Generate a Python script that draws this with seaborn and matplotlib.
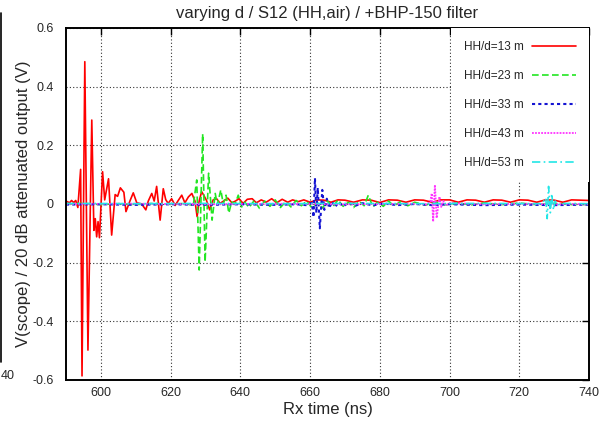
import matplotlib
matplotlib.use("Agg")
import matplotlib.pyplot as plt
from matplotlib.lines import Line2D
import seaborn as sns
import pandas as pd

# ---- data (time ns, voltage V) ----
series_labels = ["HH/d=13 m", "HH/d=23 m", "HH/d=33 m", "HH/d=43 m", "HH/d=53 m"]

d13 = [(590.0, 0.010), (591.0, 0.004), (591.6, 0.012), (592.2, 0.005), (592.8, 0.012),
       (593.4, -0.012), (594.2, 0.118), (594.6, -0.586), (595.4, 0.485), (596.3, -0.498),
       (597.4, 0.286), (598.0, -0.090), (598.4, -0.050), (598.8, -0.112), (599.2, -0.060),
       (599.6, -0.115), (600.5, 0.110), (601.1, 0.014), (602.2, 0.086), (603.1, -0.106),
       (604.1, 0.032), (604.8, 0.026), (605.6, 0.055), (606.6, 0.040), (607.2, -0.026),
       (608.4, 0.012), (609.3, 0.038), (610.3, 0.004), (611.7, 0.000), (612.9, -0.020),
       (613.6, 0.010), (614.6, 0.036), (615.3, 0.010), (616.0, 0.060), (617.0, -0.055),
       (617.9, 0.052), (618.6, 0.015), (619.3, 0.002), (620.3, 0.018), (621.3, -0.005),
       (622.2, 0.012), (623.2, 0.030), (624.1, 0.004), (625.1, 0.024), (626.1, 0.036),
       (627.0, 0.010), (627.6, -0.043), (628.2, 0.010), (628.9, 0.042), (629.5, 0.030),
       (630.3, 0.012), (631.2, -0.020), (632.2, 0.014), (633.2, 0.018), (634.2, 0.002),
       (635.2, 0.010), (636.4, 0.020), (637.6, 0.004), (638.6, 0.010), (639.6, 0.018),
       (640.8, 0.002), (642.0, 0.016), (643.4, 0.018), (644.6, 0.004), (646.0, 0.014),
       (647.4, 0.006), (649.0, 0.018), (650.4, 0.004), (652.0, 0.016), (653.6, 0.006),
       (655.0, 0.014), (656.6, 0.008), (658.2, 0.014), (660.0, 0.006), (662.0, 0.014),
       (664.0, 0.013), (666.0, 0.006), (668.0, 0.014), (670.0, 0.013), (672.5, 0.006),
       (675.0, 0.014), (677.5, 0.013), (680.0, 0.005), (682.5, 0.014), (685.0, 0.013),
       (687.5, 0.006), (690.0, 0.014), (692.5, 0.013), (695.0, 0.006), (697.5, 0.014),
       (700.0, 0.014), (702.5, 0.006), (705.0, 0.014), (707.5, 0.013), (710.0, 0.006),
       (712.5, 0.014), (715.0, 0.013), (717.5, 0.006), (720.0, 0.014), (722.5, 0.013),
       (725.0, 0.006), (727.5, 0.014), (730.0, 0.013), (732.5, 0.006), (735.0, 0.014),
       (737.5, 0.013), (740.0, 0.012)]

d23 = [(590.0, 0.000), (595.0, 0.002), (600.0, -0.002), (605.0, 0.001), (610.0, -0.002),
       (615.0, 0.002), (620.0, -0.001), (624.0, 0.002), (626.5, -0.005), (627.5, 0.082),
       (628.2, -0.225), (629.2, 0.239), (629.9, -0.197), (630.9, 0.105), (631.9, -0.055),
       (632.8, 0.036), (633.4, -0.003), (634.4, 0.048), (635.1, 0.000), (635.9, 0.030),
       (636.7, -0.031), (637.5, 0.007), (638.5, 0.000), (639.4, 0.030), (640.4, -0.010),
       (641.3, 0.006), (642.5, -0.012), (644.0, 0.012), (645.5, -0.015), (647.0, 0.010),
       (648.5, -0.008), (650.0, 0.014), (651.5, -0.012), (653.0, 0.008), (654.5, -0.010),
       (656.0, 0.012), (657.5, -0.006), (659.0, 0.010), (660.5, -0.012), (662.0, 0.006),
       (663.5, -0.014), (665.0, 0.010), (666.5, -0.010), (668.0, 0.014), (669.5, -0.008),
       (671.0, 0.006), (672.5, -0.012), (674.0, 0.010), (675.5, -0.006), (676.7, 0.030),
       (678.0, -0.010), (679.5, 0.008), (681.0, -0.008), (682.5, 0.010), (684.0, -0.006),
       (686.0, 0.008), (688.0, -0.006), (690.0, 0.006), (693.0, -0.004), (696.0, 0.006),
       (699.0, -0.003), (702.0, 0.004), (706.0, -0.003), (710.0, 0.003), (715.0, -0.002),
       (720.0, 0.003), (725.0, -0.002), (730.0, 0.002), (735.0, -0.002), (740.0, 0.001)]

d33 = [(590.0, -0.002), (600.0, -0.001), (610.0, -0.003), (620.0, -0.001), (630.0, -0.003),
       (640.0, -0.001), (650.0, -0.003), (656.0, -0.001), (659.0, -0.004), (660.5, 0.004),
       (661.0, -0.045), (661.4, 0.088), (661.8, -0.030), (662.2, 0.055), (662.8, -0.083),
       (663.5, 0.048), (664.1, -0.020), (664.8, 0.018), (665.5, -0.014), (666.3, 0.008),
       (667.2, -0.010), (668.2, 0.006), (669.5, -0.008), (671.0, 0.004), (673.0, -0.006),
       (675.0, 0.003), (678.0, -0.005), (681.0, 0.002), (685.0, -0.004), (690.0, 0.000),
       (695.0, -0.004), (700.0, -0.001), (710.0, -0.004), (720.0, -0.002), (730.0, -0.004),
       (740.0, -0.002)]

d43 = [(590.0, 0.000), (610.0, 0.001), (630.0, -0.001), (650.0, 0.001), (670.0, -0.001),
       (690.0, 0.001), (693.5, -0.002), (694.5, 0.010), (694.9, 0.036), (695.3, -0.060),
       (695.8, 0.065), (696.3, -0.048), (697.1, 0.025), (697.6, -0.010), (698.2, 0.010),
       (699.0, -0.005), (700.0, 0.003), (710.0, -0.001), (720.0, 0.001), (730.0, -0.001),
       (740.0, 0.000)]

d53 = [(590.0, 0.002), (610.0, 0.001), (630.0, 0.002), (650.0, 0.001), (670.0, 0.002),
       (690.0, 0.001), (710.0, 0.002), (726.5, 0.001), (727.6, 0.020), (728.0, -0.050),
       (728.4, 0.060), (728.9, -0.030), (729.3, 0.035), (729.8, -0.020), (730.3, 0.010),
       (731.0, -0.004), (732.0, 0.002), (740.0, 0.001)]

x_ticks = [600, 620, 640, 660, 680, 700, 720, 740]
y_ticks = [-0.6, -0.4, -0.2, 0, 0.2, 0.4, 0.6]
y_tick_labels = ["-0.6", "-0.4", "-0.2", "0", "0.2", "0.4", "0.6"]

# ---- style ----
sns.set_style("white")
plt.rcParams["font.family"] = ["Liberation Sans", "DejaVu Sans"]

colors = ["#ff0000", "#22e622", "#1414d2", "#ff33ff", "#22e6e6"]
dashes = [(None, None), (0, (4, 2)), (0, (1.5, 1.5)), (0, (1, 0.7)), (0, (5, 2, 1, 2))]
widths = [1.2, 1.2, 1.5, 1.3, 1.2]

fig = plt.figure(figsize=(6.07, 4.24), dpi=100)
ax = fig.add_axes([0.1087, 0.1038, 0.8617, 0.8302])

for data, lab, col, ls, lw in zip([d13, d23, d33, d43, d53], series_labels, colors, dashes, widths):
    df = pd.DataFrame(data, columns=["t", "v"])
    line_style = "-" if ls[0] is None else ls
    sns.lineplot(data=df, x="t", y="v", ax=ax, color=col, lw=lw, label=lab,
                 estimator=None, sort=False, linestyle=line_style)

ax.set_xlim(590, 740)
ax.set_ylim(-0.6, 0.6)
ax.set_xticks(x_ticks)
ax.set_yticks(y_ticks)
ax.set_yticklabels(y_tick_labels)
ax.tick_params(axis="both", direction="in", length=5, width=1, top=True, right=True,
               labelsize=9, color="black")
ax.tick_params(axis="x", pad=5)
ax.tick_params(axis="y", pad=9)
ax.grid(True, linestyle=(0, (1, 2)), color="#333333", lw=0.8)
ax.set_axisbelow(True)
for s in ax.spines.values():
    s.set_color("black")
    s.set_linewidth(1.4)

ax.set_title("varying d / S12 (HH,air) / +BHP-150 filter", fontsize=12, pad=7)
ax.set_xlabel("Rx time (ns)", fontsize=12, labelpad=2)
ax.set_ylabel("V(scope) / 20 dB attenuated output (V)", fontsize=12, labelpad=0.5)

leg = ax.legend(loc="upper right", markerfirst=False, fontsize=8.5, frameon=True,
                fancybox=False, edgecolor="none", facecolor="white", framealpha=1,
                borderaxespad=0, borderpad=1.1, labelspacing=1.45, handlelength=3.7,
                handletextpad=0.7)

# cropped neighbouring panel remnant at the left edge
fig.add_artist(Line2D([1.5 / 607, 1.5 / 607], [1 - 13 / 424, 1 - 362 / 424],
                      transform=fig.transFigure, color="black", lw=1.2))
fig.text(0.5 / 607, 1 - 376 / 424, "40", ha="left", va="center", fontsize=9)

fig.savefig("out.png", dpi=100)
